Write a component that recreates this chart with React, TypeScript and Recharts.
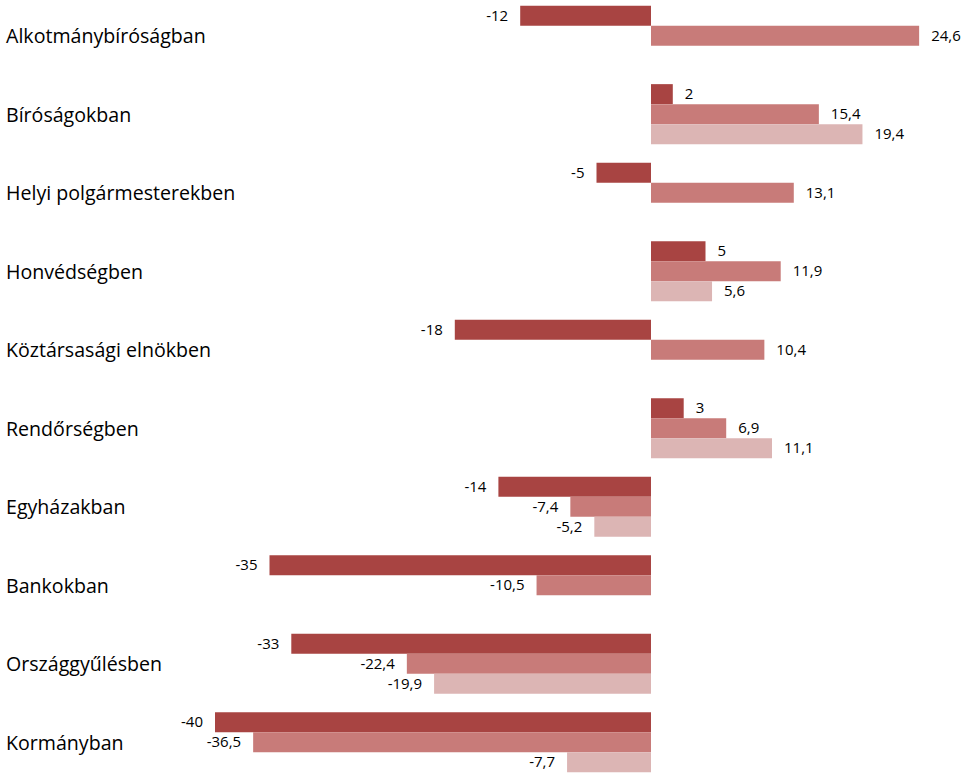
import React from "react";
import { BarChart, Bar, XAxis, YAxis, LabelList } from "recharts";

const categories = [
  "Alkotmánybíróságban",
  "Bíróságokban",
  "Helyi polgármesterekben",
  "Honvédségben",
  "Köztársasági elnökben",
  "Rendőrségben",
  "Egyházakban",
  "Bankokban",
  "Országgyűlésben",
  "Kormányban",
];
const series1: (number | null)[] = [-12, 2, -5, 5, -18, 3, -14, -35, -33, -40];
const series2: (number | null)[] = [24.6, 15.4, 13.1, 11.9, 10.4, 6.9, -7.4, -10.5, -22.4, -36.5];
const series3: (number | null)[] = [null, 19.4, null, 5.6, null, 11.1, -5.2, null, -19.9, -7.7];

const data = categories.map((c, i) => ({
  name: c,
  s1: series1[i],
  s2: series2[i],
  s3: series3[i],
}));

const COLORS = ["#A84442", "#C87B79", "#DCB5B4"];
const FONT = "'Open Sans', Lato, sans-serif";

const fmt = (v: number) => String(v).replace(".", ",");

const BarLabel = (props: any) => {
  const { x, y, width, height, value } = props;
  if (value === null || value === undefined) return null;
  const left = Math.min(x, x + width);
  const right = Math.max(x, x + width);
  const neg = value < 0;
  const off = 12;
  return (
    <text
      x={neg ? left - off : right + off}
      y={y + height / 2}
      dy="0.35em"
      textAnchor={neg ? "end" : "start"}
      fontSize={15}
      fontFamily={FONT}
      fill="#000"
    >
      {fmt(value)}
    </text>
  );
};

const CatTick = (props: any) => {
  const { y, payload } = props;
  return (
    <text x={6} y={y} dy="0.35em" textAnchor="start" fontSize={19.6} fontFamily={FONT} fill="#000">
      {payload.value}
    </text>
  );
};

export default function App() {
  return (
    <div style={{ position: "absolute", left: 0, top: 0, width: 963, height: 774, overflow: "hidden", background: "#fff" }}>
      <div style={{ position: "absolute", left: 0, top: -3 }}>
        <BarChart
          width={963}
          height={789}
          data={data}
          layout="vertical"
          margin={{ top: 0, right: 39.5, bottom: 4, left: 0 }}
          barCategoryGap="11%"
          barGap={0}
        >
          <XAxis type="number" domain={[-40, 25]} hide allowDataOverflow />
          <YAxis
            type="category"
            dataKey="name"
            width={215}
            axisLine={false}
            tickLine={false}
            tick={<CatTick />}
            interval={0}
          />
          <Bar dataKey="s1" fill={COLORS[0]} isAnimationActive={false}>
            <LabelList dataKey="s1" content={<BarLabel />} />
          </Bar>
          <Bar dataKey="s2" fill={COLORS[1]} isAnimationActive={false}>
            <LabelList dataKey="s2" content={<BarLabel />} />
          </Bar>
          <Bar dataKey="s3" fill={COLORS[2]} isAnimationActive={false}>
            <LabelList dataKey="s3" content={<BarLabel />} />
          </Bar>
        </BarChart>
      </div>
    </div>
  );
}
